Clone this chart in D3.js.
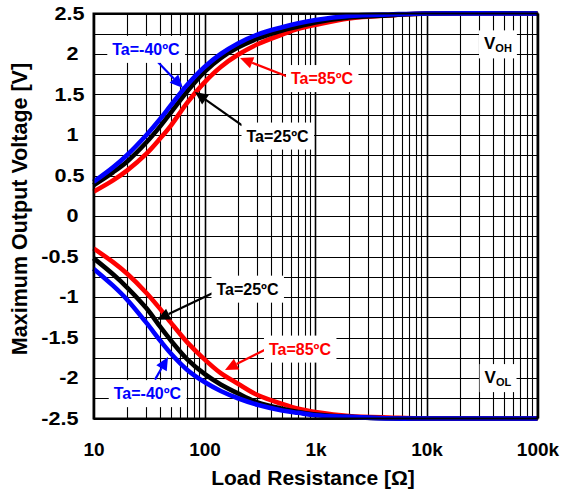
<!DOCTYPE html>
<html><head><meta charset="utf-8">
<script src="https://cdn.jsdelivr.net/npm/d3@7"></script>
<style>
  body { margin: 0; background: #fff; }
  svg { display: block; }
  text { font-family: Arial, "Liberation Sans", sans-serif; font-weight: bold; }
</style>
</head><body>
<svg id="chart" width="562" height="493"></svg>
<script>
// Load resistance sample points [ohm]
const resistance = [10, 15, 20, 30, 40, 50, 70, 100, 140, 200, 300, 500, 700, 1000, 2000, 5000, 10000, 100000];

// Maximum output voltage, high side (VOH) [V]
const vohMinus40 = [0.42, 0.60, 0.75, 1.00, 1.20, 1.37, 1.62, 1.84, 2.00, 2.13, 2.24, 2.33, 2.38, 2.42, 2.47, 2.49, 2.50, 2.50];
const voh25      = [0.38, 0.54, 0.67, 0.91, 1.11, 1.28, 1.54, 1.78, 1.95, 2.08, 2.19, 2.29, 2.34, 2.39, 2.45, 2.48, 2.50, 2.50];
const voh85      = [0.30, 0.44, 0.56, 0.77, 0.96, 1.12, 1.40, 1.65, 1.84, 1.99, 2.12, 2.24, 2.31, 2.36, 2.44, 2.48, 2.50, 2.50];

// Maximum output voltage, low side (VOL) [V]
const volMinus40 = [-0.65, -0.86, -1.03, -1.32, -1.54, -1.70, -1.90, -2.05, -2.16, -2.25, -2.33, -2.40, -2.43, -2.46, -2.48, -2.50, -2.50, -2.50];
const vol25      = [-0.52, -0.72, -0.88, -1.14, -1.37, -1.54, -1.77, -1.95, -2.08, -2.19, -2.30, -2.38, -2.42, -2.45, -2.48, -2.50, -2.50, -2.50];
const vol85      = [-0.40, -0.57, -0.71, -0.95, -1.15, -1.32, -1.56, -1.77, -1.94, -2.07, -2.21, -2.32, -2.38, -2.42, -2.47, -2.49, -2.50, -2.50];

// Axis ticks
const xTickValues = [10, 100, 1000, 10000, 100000];
const xTickLabels = ["10", "100", "1k", "10k", "100k"];
const yTickValues = [2.5, 2, 1.5, 1, 0.5, 0, -0.5, -1, -1.5, -2, -2.5];
const yTickLabels = ["2.5", "2", "1.5", "1", "0.5", "0", "-0.5", "-1", "-1.5", "-2", "-2.5"];

// Series (drawn in this order: 85, 25, -40 on top)
const series = [
  { name: "Ta=85ºC",  color: "#ff0000", values: voh85 },
  { name: "Ta=85ºC",  color: "#ff0000", values: vol85 },
  { name: "Ta=25ºC",  color: "#000000", values: voh25 },
  { name: "Ta=25ºC",  color: "#000000", values: vol25 },
  { name: "Ta=-40ºC", color: "#0000ff", values: vohMinus40 },
  { name: "Ta=-40ºC", color: "#0000ff", values: volMinus40 }
];

// Callouts: label centre, arrow tail and arrow tip, all in data units [ohm, V]
const callouts = [
  { text: "Ta=-40ºC", color: "#0000ff", at: [29.7, 2.06],  from: [38, 1.90],   to: [64, 1.58] },
  { text: "Ta=85ºC",  color: "#ff0000", at: [1145, 1.70],  from: [565, 1.72],  to: [209, 1.95] },
  { text: "Ta=25ºC",  color: "#000000", at: [455, 0.99],   from: [218, 1.12],  to: [82, 1.53] },
  { text: "Ta=25ºC",  color: "#000000", at: [244, -0.90],  from: [119, -0.95], to: [37.3, -1.28] },
  { text: "Ta=85ºC",  color: "#ff0000", at: [725, -1.64],  from: [389, -1.62], to: [153, -1.90] },
  { text: "Ta=-40ºC", color: "#0000ff", at: [30.6, -2.19], from: [35.8, -2.02], to: [46.9, -1.74] }
];
const railLabels = [
  { main: "V", sub: "OH", at: [44000, 2.12] },
  { main: "V", sub: "OL", at: [44000, -2.00] }
];

const svg = d3.select("#chart");
const plotLeft = 93.5, plotRight = 537.5, plotTop = 13.5, plotBottom = 418.5;

const x = d3.scaleLog().domain([10, 100000]).range([plotLeft, plotRight]);
const y = d3.scaleLinear().domain([-2.5, 2.5]).range([plotBottom, plotTop]);

// Grid: horizontal every 0.25 V, vertical at 1..9 of each decade
const grid = svg.append("g");
d3.range(-2.5, 2.5001, 0.25).forEach(v => {
  grid.append("line")
    .attr("x1", plotLeft).attr("x2", plotRight)
    .attr("y1", Math.round(y(v)) + 0.5).attr("y2", Math.round(y(v)) + 0.5)
    .attr("stroke", "#000").attr("stroke-width", 1.1);
});
const vGrid = [];
[10, 100, 1000, 10000].forEach(d => { for (let k = 1; k <= 9; k++) vGrid.push(d * k); });
vGrid.push(100000);
vGrid.forEach(r => {
  const major = Math.abs(Math.log10(r) - Math.round(Math.log10(r))) < 1e-9;
  grid.append("line")
    .attr("x1", Math.round(x(r)) + 0.5).attr("x2", Math.round(x(r)) + 0.5)
    .attr("y1", plotTop).attr("y2", plotBottom)
    .attr("stroke", "#000").attr("stroke-width", major ? 1.6 : 1.1);
});

// Curves
const line = d3.line()
  .x((d, i) => x(resistance[i]))
  .y(d => y(d))
  .curve(d3.curveCatmullRom.alpha(0.5));

svg.append("g").selectAll("path").data(series).join("path")
  .attr("d", s => line(s.values))
  .attr("fill", "none")
  .attr("stroke", s => s.color)
  .attr("stroke-width", 4.6)
  .attr("stroke-linejoin", "round");

// Callout arrows
const arrows = svg.append("g");
callouts.forEach(c => {
  const x0 = x(c.from[0]), y0 = y(c.from[1]);
  const x1 = x(c.to[0]),   y1 = y(c.to[1]);
  const ang = Math.atan2(y1 - y0, x1 - x0);
  const headLen = 13, headHalf = 6;
  const bx = x1 - headLen * Math.cos(ang), by = y1 - headLen * Math.sin(ang);
  arrows.append("line")
    .attr("x1", x0).attr("y1", y0).attr("x2", bx).attr("y2", by)
    .attr("stroke", c.color).attr("stroke-width", 2.2);
  const px = -Math.sin(ang) * headHalf, py = Math.cos(ang) * headHalf;
  arrows.append("path")
    .attr("d", `M${x1},${y1}L${bx + px},${by + py}L${bx - px},${by - py}Z`)
    .attr("fill", c.color);
});

// Callout labels on white boxes
const labels = svg.append("g");
callouts.forEach(c => {
  const g = labels.append("g");
  const t = g.append("text")
    .attr("x", x(c.at[0])).attr("y", y(c.at[1]))
    .attr("text-anchor", "middle").attr("dy", "0.36em")
    .attr("font-size", 16).attr("fill", c.color)
    .text(c.text);
  const b = t.node().getBBox();
  g.insert("rect", "text")
    .attr("x", b.x - 5).attr("y", b.y - 5)
    .attr("width", b.width + 10).attr("height", b.height + 10)
    .attr("fill", "#fff");
});
railLabels.forEach(r => {
  const g = labels.append("g");
  const t = g.append("text")
    .attr("x", x(r.at[0])).attr("y", y(r.at[1]))
    .attr("text-anchor", "middle").attr("dy", "0.3em")
    .attr("font-size", 17).attr("fill", "#000");
  t.append("tspan").text(r.main);
  t.append("tspan").attr("font-size", 11).attr("dy", 3).text(r.sub);
  const b = t.node().getBBox();
  g.insert("rect", "text")
    .attr("x", b.x - 5).attr("y", b.y - 4)
    .attr("width", b.width + 10).attr("height", b.height + 8)
    .attr("fill", "#fff");
});

// Plot frame
svg.append("rect")
  .attr("x", plotLeft).attr("y", plotTop)
  .attr("width", plotRight - plotLeft).attr("height", plotBottom - plotTop)
  .attr("fill", "none").attr("stroke", "#000").attr("stroke-width", 2);

// Axes
const xAxis = svg.append("g")
  .attr("transform", `translate(0,${plotBottom})`)
  .call(d3.axisBottom(x).tickValues(xTickValues)
    .tickFormat((d, i) => xTickLabels[i]).tickSize(0).tickPadding(24));
xAxis.select(".domain").remove();
xAxis.selectAll("text").attr("font-size", 19).attr("fill", "#000")
  .attr("font-family", "Arial, 'Liberation Sans', sans-serif").attr("font-weight", "bold");

// Y tick labels are set in a slightly widened face
const yStretch = 1.2;
const yAxis = svg.append("g")
  .attr("transform", `translate(${plotLeft},0)`)
  .call(d3.axisLeft(y).tickValues(yTickValues)
    .tickFormat((d, i) => yTickLabels[i]).tickSize(0).tickPadding(15));
yAxis.select(".domain").remove();
yAxis.selectAll("text").attr("font-size", 18).attr("fill", "#000")
  .attr("font-family", "Arial, 'Liberation Sans', sans-serif").attr("font-weight", "bold")
  .attr("transform", `scale(${yStretch},1)`)
  .attr("x", -15 / yStretch)
  .attr("dx", d => ((d > 0 && d % 1 !== 0) ? 6 : 0) / yStretch);

// Axis titles
svg.append("text")
  .attr("x", 313).attr("y", 485)
  .attr("text-anchor", "middle").attr("font-size", 21)
  .text("Load Resistance [Ω]");
svg.append("text")
  .attr("transform", "translate(27,209) rotate(-90)")
  .attr("text-anchor", "middle").attr("font-size", 21.5)
  .text("Maximum Output Voltage [V]");
</script>
</body></html>
